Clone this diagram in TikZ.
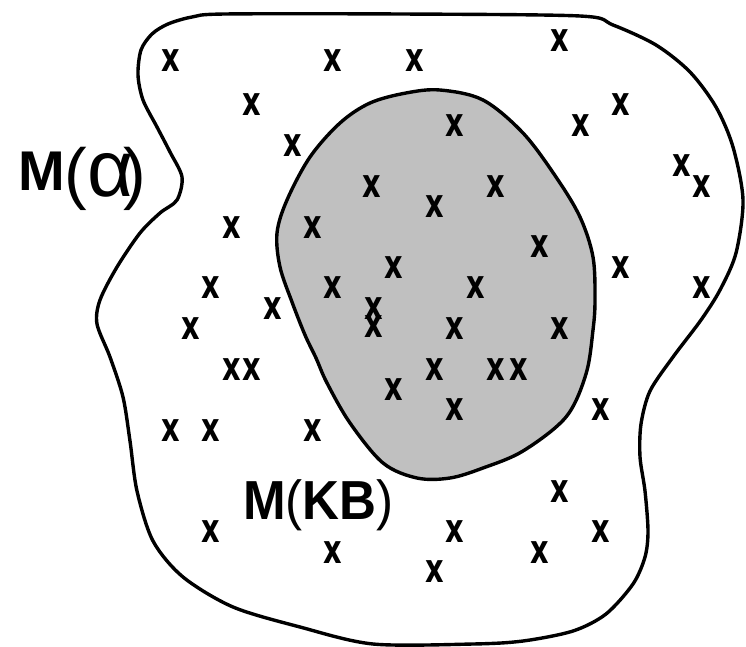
\documentclass[tikz,border=0pt]{standalone}
\usepackage{fontspec}
\setmainfont{Liberation Sans}
\newfontfamily\markfont{DejaVu Sans}
\definecolor{kbgray}{RGB}{192,192,192}
\begin{document}
\begin{tikzpicture}[x=1pt,y=-1pt,
  blob/.style={line width=3.4pt, line join=round},
  xmark/.style={font=\markfont\fontsize{40}{40}\selectfont\bfseries, inner sep=0pt},
  lbl/.style={inner sep=0pt, anchor=base west}]
\fill[white] (0,0) rectangle (746,647);
\useasboundingbox (0,0) rectangle (746,647);
% outer region M(alpha)
\draw[blob] plot[smooth cycle, tension=0.5] coordinates {
 (141,50) (152,34) (168,24) (192,17) (225,14) (400,14) (580,16) (613,25) (656,45)
 (690,72) (716,107) (733,147) (743,200) (736,253) (720,290) (701,320) (673,357)
 (650,391) (641,424) (640,457) (645,491) (648,531) (645,557) (633,584) (606,614)
 (573,631) (523,641) (473,644) (373,644) (300,627) (233,607) (183,577) (153,541)
 (137,491) (130,441) (123,397) (110,357) (97,324) (100,300) (117,267) (140,233)
 (160,213) (177,200) (182,177) (170,152) (157,127) (143,100) (138,75)};
% inner region M(KB)
\draw[blob, fill=kbgray] plot[smooth cycle, tension=0.55] coordinates {
 (370,103) (406,93) (440,90) (483,100) (523,133) (556,177) (580,217) (593,257)
 (595,300) (593,330) (586,374) (566,417) (523,451) (483,468) (450,478) (417,478)
 (383,463) (350,423) (327,383) (316,358) (305,335) (292,302) (280,267)
 (277,233) (287,200) (310,157) (340,123)};
% models
\foreach \a/\b [count=\i] in {
 171/61, 333/61, 415/61, 560/41, 252/105, 621/105, 581/126, 455/126,
 293/146, 372/187, 496/187, 435/207, 682/166, 702/187,
 232/228, 313/228, 540/247, 394/268, 621/268,
 211/288, 333/288, 476/288, 702/288,
 273/309, 374/309, 374/327, 191/329, 455/329, 560/329,
 232/370, 252/370, 435/370, 496/370, 519/370,
 394/390, 455/410, 601/410, 171/431, 211/431, 313/431,
 560/492, 211/532, 455/532, 601/532, 333/553, 540/553, 435/572}
 \node[xmark] (x\i) at (\a,\b) {\scalebox{0.72}[1]{x}};
% labels
\node[lbl] (malpha) at (18,190) {\fontsize{56}{56}\selectfont\bfseries M%
 {\mdseries\fontsize{68}{68}\selectfont\raisebox{-6pt}{(}%
 \raisebox{-6pt}{\fontsize{80}{80}\selectfont α}\kern-10pt\raisebox{-6pt}{)}}};
\node[lbl] (mkb) at (243,519) {\fontsize{55}{55}\selectfont\scalebox{0.93}[1]{\bfseries M{\mdseries(}KB{\mdseries)}}};
\end{tikzpicture}
\end{document}
